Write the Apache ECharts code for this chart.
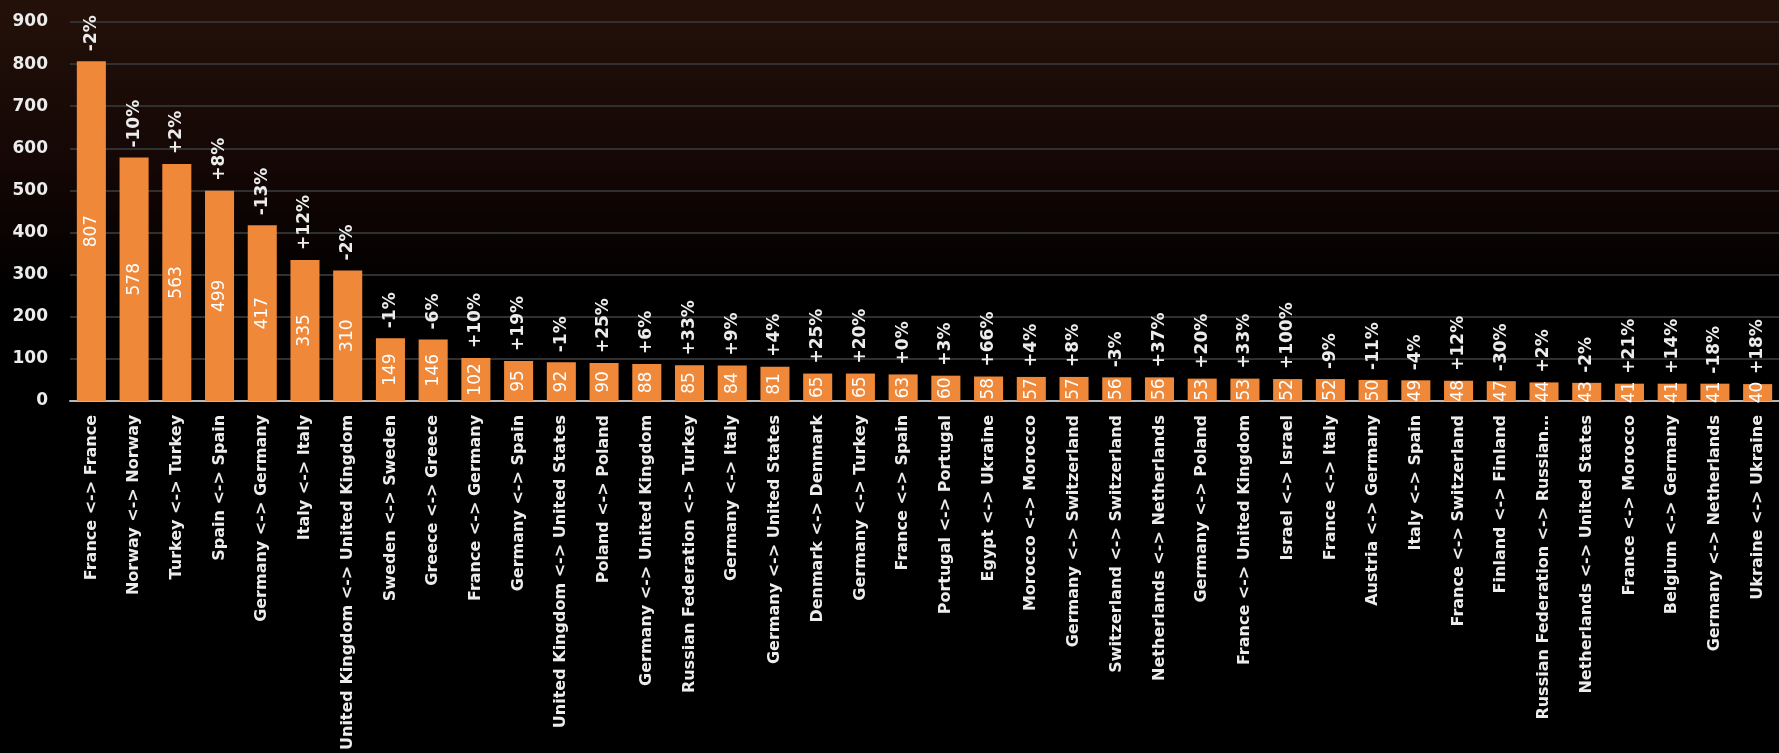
<!DOCTYPE html>
<html>
<head>
<meta charset="utf-8">
<script src="https://cdn.jsdelivr.net/npm/echarts@6/dist/echarts.min.js"></script>
<style>
  html, body { margin: 0; padding: 0; }
  body { background: linear-gradient(to bottom, #241109 0%, #140705 22%, #000000 39%, #000000 100%); }
  #main { width: 1779px; height: 753px; }
</style>
</head>
<body>
<div id="main"></div>
<script>
var routes = [
  'France <-> France', 'Norway <-> Norway', 'Turkey <-> Turkey', 'Spain <-> Spain',
  'Germany <-> Germany', 'Italy <-> Italy', 'United Kingdom <-> United Kingdom',
  'Sweden <-> Sweden', 'Greece <-> Greece', 'France <-> Germany', 'Germany <-> Spain',
  'United Kingdom <-> United States', 'Poland <-> Poland', 'Germany <-> United Kingdom',
  'Russian Federation <-> Turkey', 'Germany <-> Italy', 'Germany <-> United States',
  'Denmark <-> Denmark', 'Germany <-> Turkey', 'France <-> Spain', 'Portugal <-> Portugal',
  'Egypt <-> Ukraine', 'Morocco <-> Morocco', 'Germany <-> Switzerland',
  'Switzerland <-> Switzerland', 'Netherlands <-> Netherlands', 'Germany <-> Poland',
  'France <-> United Kingdom', 'Israel <-> Israel', 'France <-> Italy', 'Austria <-> Germany',
  'Italy <-> Spain', 'France <-> Switzerland', 'Finland <-> Finland',
  'Russian Federation <-> Russian…', 'Netherlands <-> United States', 'France <-> Morocco',
  'Belgium <-> Germany', 'Germany <-> Netherlands', 'Ukraine <-> Ukraine'
];
var values = [807, 578, 563, 499, 417, 335, 310, 149, 146, 102, 95, 92, 90, 88, 85, 84, 81,
  65, 65, 63, 60, 58, 57, 57, 56, 56, 53, 53, 52, 52, 50, 49, 48, 47, 44, 43, 41, 41, 41, 40];
var changes = ['-2%', '-10%', '+2%', '+8%', '-13%', '+12%', '-2%', '-1%', '-6%', '+10%', '+19%',
  '-1%', '+25%', '+6%', '+33%', '+9%', '+4%', '+25%', '+20%', '+0%', '+3%', '+66%', '+4%', '+8%',
  '-3%', '+37%', '+20%', '+33%', '+100%', '-9%', '-11%', '-4%', '+12%', '-30%', '+2%', '-2%',
  '+21%', '+14%', '-18%', '+18%'];
var yTicks = [0, 100, 200, 300, 400, 500, 600, 700, 800, 900];

var chart = echarts.init(document.getElementById('main'));
var font = 'DejaVu Sans';

chart.setOption({
  backgroundColor: 'transparent',
  animation: false,
  grid: { left: 70, top: 22, width: 1714, bottom: 350, containLabel: false },
  xAxis: {
    type: 'category',
    data: routes,
    axisLine: { lineStyle: { color: '#b8b8b8', width: 2 } },
    axisTick: { show: false },
    axisLabel: {
      interval: 0, rotate: 90, margin: 14,
      color: '#ececec', fontFamily: font, fontSize: 16, fontWeight: 'bold'
    }
  },
  yAxis: {
    type: 'value',
    min: yTicks[0], max: yTicks[yTicks.length - 1], interval: 100,
    axisLine: { show: false },
    axisTick: { show: false },
    splitLine: { lineStyle: { color: '#303030', width: 2 } },
    axisLabel: {
      margin: 22, color: '#ececec', fontFamily: font, fontSize: 17, fontWeight: 'bold'
    }
  },
  series: [
    {
      type: 'bar',
      data: values,
      barCategoryGap: '32%',
      itemStyle: { color: '#f0883a' },
      label: {
        show: true, position: 'inside', rotate: 90,
        color: '#ffffff', fontFamily: font, fontSize: 17
      },
      z: 2
    },
    {
      type: 'bar',
      data: values,
      barGap: '-100%',
      itemStyle: { color: 'rgba(0,0,0,0)' },
      silent: true,
      label: {
        show: true, position: 'top', rotate: 90, distance: 10,
        align: 'left', verticalAlign: 'middle',
        color: '#ececec', fontFamily: font, fontSize: 17, fontWeight: 'bold',
        formatter: function (p) { return changes[p.dataIndex]; }
      },
      z: 3
    }
  ]
});
</script>
</body>
</html>
